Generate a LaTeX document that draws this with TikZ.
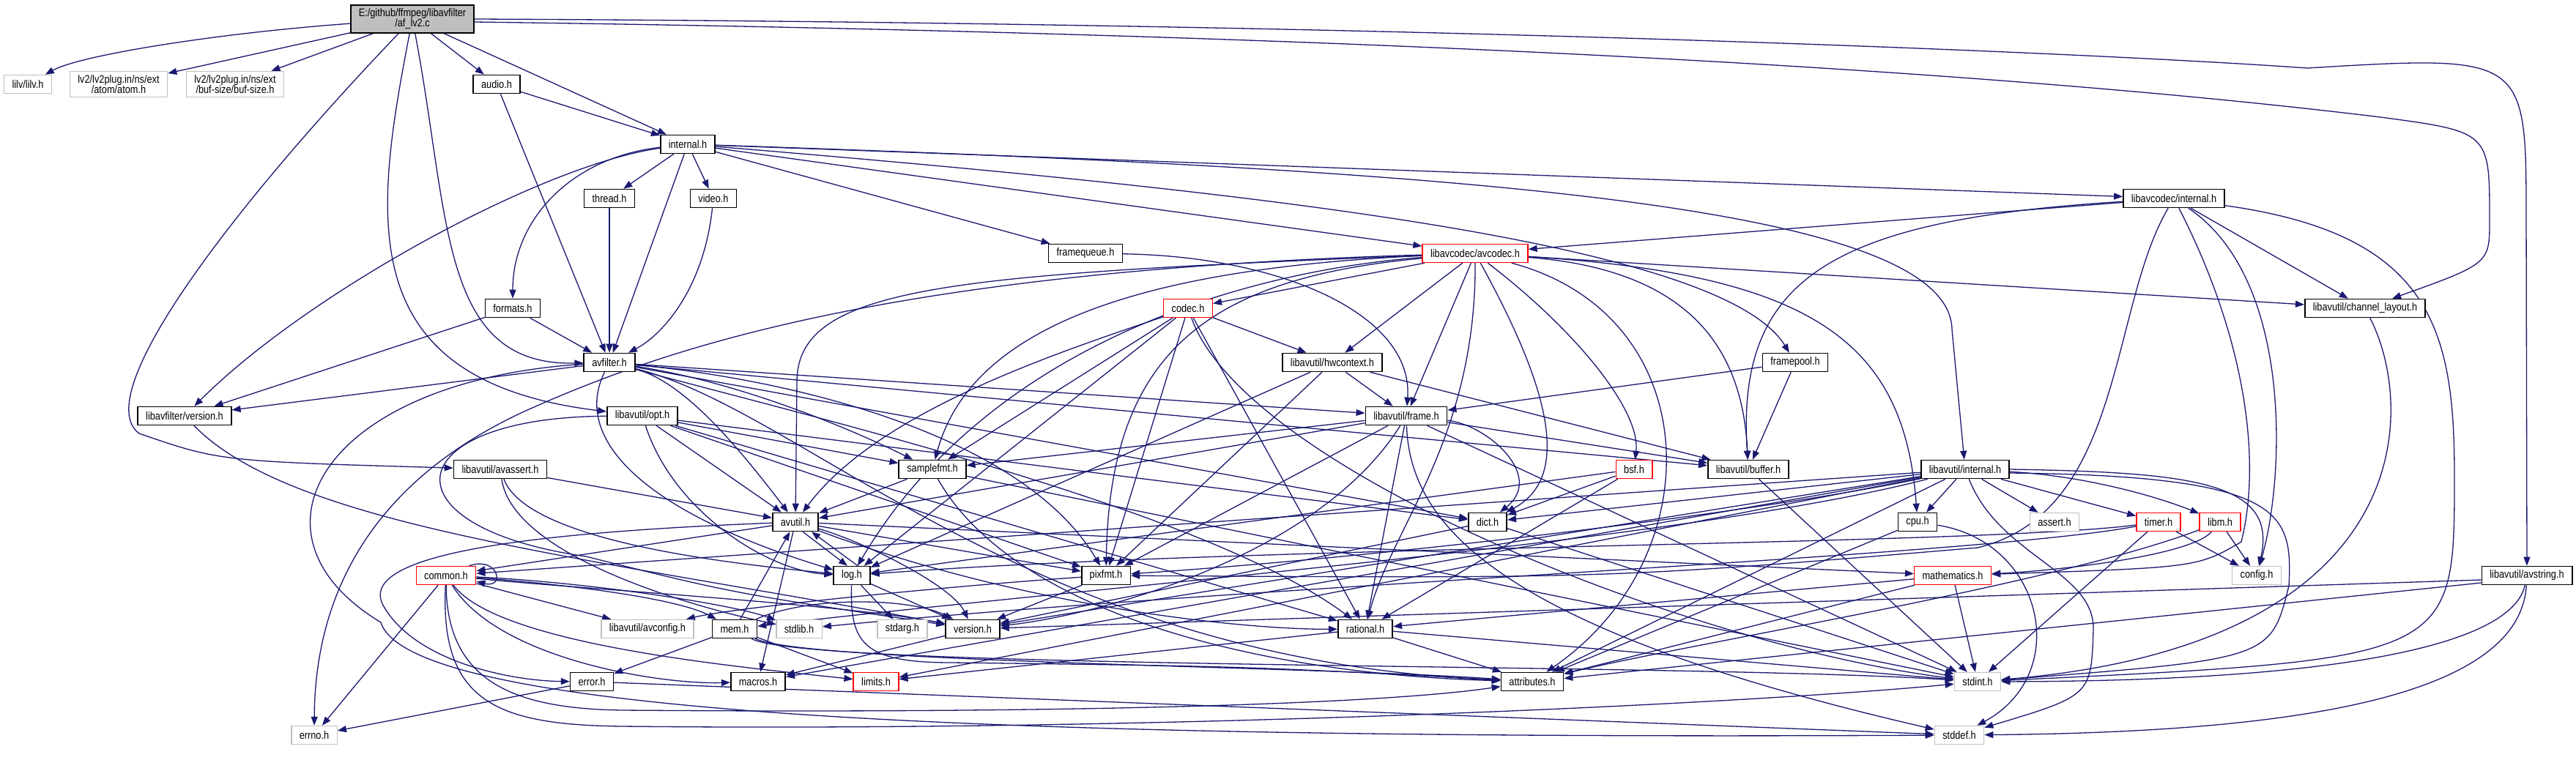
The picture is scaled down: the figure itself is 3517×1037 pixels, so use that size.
\documentclass[tikz,border=0pt]{standalone}
\usepackage{fontspec}
\setmainfont{Liberation Sans}[FakeStretch=0.85]
\usetikzlibrary{arrows.meta}
\definecolor{edgeblue}{RGB}{25,25,112}
\definecolor{sysgray}{RGB}{191,191,191}
\pgfdeclarelayer{bglayer}
\pgfdeclarelayer{edgelayer}
\pgfsetlayers{bglayer,edgelayer,main}

\begin{document}
\begin{tikzpicture}[x=1pt, y=-1pt, font=\fontsize{15}{14}\selectfont]
    \tikzset{
        hdr/.style={draw=black, line width=1.6pt, fill=white, inner xsep=11pt, inner ysep=5pt, minimum height=25pt, align=center},
        sysh/.style={hdr, draw=sysgray, line width=1.4pt},
        trunc/.style={hdr, draw=red, line width=1.4pt},
        rootbox/.style={hdr, fill=sysgray},
        inc/.style={draw=edgeblue, line width=1.3pt, -{Triangle[length=12pt,width=9pt]}},
    }
    \begin{pgfonlayer}{bglayer}
        \fill[white] (0,0) rectangle (3517,1037);
    \end{pgfonlayer}
    \useasboundingbox (0,0) rectangle (3517,1037);

    \node[rootbox] (root) at (563,26) {E:/github/ffmpeg/libavfilter\\/af\_lv2.c};
    \node[sysh] (lilv) at (38,115) {lilv/lilv.h};
    \node[sysh] (atom) at (162,115) {lv2/lv2plug.in/ns/ext\\/atom/atom.h};
    \node[sysh] (bufsize) at (321,115) {lv2/lv2plug.in/ns/ext\\/buf-size/buf-size.h};
    \node[hdr] (audio) at (678,115) {audio.h};
    \node[hdr] (internal) at (939,197) {internal.h};
    \node[hdr] (thread) at (832,271) {thread.h};
    \node[hdr] (video) at (974,271) {video.h};
    \node[hdr] (lavcint) at (2968,271) {libavcodec/internal.h};
    \node[hdr] (framequeue) at (1482,346) {framequeue.h};
    \node[trunc] (avcodec) at (2014,346) {libavcodec/avcodec.h};
    \node[hdr] (formats) at (700,421) {formats.h};
    \node[trunc] (codec) at (1622,421) {codec.h};
    \node[hdr] (chlayout) at (3229,421) {libavutil/channel\_layout.h};
    \node[hdr] (avfilter) at (832,495) {avfilter.h};
    \node[hdr] (hwctx) at (1819,495) {libavutil/hwcontext.h};
    \node[hdr] (framepool) at (2451,495) {framepool.h};
    \node[hdr] (lversion) at (252,568) {libavfilter/version.h};
    \node[hdr] (opt) at (877,568) {libavutil/opt.h};
    \node[hdr] (frame) at (1920,568) {libavutil/frame.h};
    \node[hdr] (avassert) at (683,641) {libavutil/avassert.h};
    \node[hdr] (samplefmt) at (1273,641) {samplefmt.h};
    \node[trunc] (bsf) at (2231,641) {bsf.h};
    \node[hdr] (buffer) at (2387,641) {libavutil/buffer.h};
    \node[hdr] (lavuint) at (2683,641) {libavutil/internal.h};
    \node[hdr] (avutil) at (1086,713) {avutil.h};
    \node[hdr] (dict) at (2031,713) {dict.h};
    \node[hdr] (cpu) at (2618,713) {cpu.h};
    \node[sysh] (assert) at (2805,713) {assert.h};
    \node[trunc] (timer) at (2947,713) {timer.h};
    \node[trunc] (libm) at (3031,713) {libm.h};
    \node[trunc] (common) at (609,786) {common.h};
    \node[hdr] (log) at (1163,786) {log.h};
    \node[hdr] (pixfmt) at (1510,786) {pixfmt.h};
    \node[trunc] (mathem) at (2666,786) {mathematics.h};
    \node[sysh] (config) at (3081,786) {config.h};
    \node[hdr] (avstring) at (3450,786) {libavutil/avstring.h};
    \node[sysh] (avconfig) at (884,859) {libavutil/avconfig.h};
    \node[hdr] (mem) at (1003,859) {mem.h};
    \node[sysh] (stdlib) at (1091,859) {stdlib.h};
    \node[sysh] (stdarg) at (1232,859) {stdarg.h};
    \node[hdr] (version) at (1328,859) {version.h};
    \node[hdr] (rational) at (1864,859) {rational.h};
    \node[hdr] (error) at (808,931) {error.h};
    \node[hdr] (macros) at (1035,931) {macros.h};
    \node[trunc] (limits) at (1196,931) {limits.h};
    \node[hdr] (attributes) at (2092,931) {attributes.h};
    \node[sysh] (stdint) at (2700,931) {stdint.h};
    \node[sysh] (errno) at (429,1004) {errno.h};
    \node[sysh] (stddef) at (2675,1004) {stddef.h};

    \begin{pgfonlayer}{edgelayer}
    \draw[inc] (root) .. controls (300,45) and (110,75) .. (lilv);
    \draw[inc] (root) -- (atom);
    \draw[inc] (root) -- (bufsize);
    \draw[inc] (root) -- (audio);
    \draw[inc] (root) -- (internal);
    \draw[inc] (root) .. controls (320,280) and (120,540) .. (190,592) .. controls (300,630) .. (avassert);
    \draw[inc] (root) .. controls (510,300) and (480,520) .. (opt);
    \draw[inc] (root) .. controls (615,300) and (600,500) .. (avfilter);
    \draw[inc] (root.east) .. controls (2000,32) and (2900,75) .. (3150,93) .. controls (3449,75) .. (3449,300) -- (avstring);
    \draw[inc] ([yshift=-4pt]root.east) .. controls (2000,48) and (2800,105) .. (3250,160) .. controls (3399,180) .. (3399,300) .. controls (3399,360) .. (chlayout);

    \draw[inc] (audio) -- (internal);
    \draw[inc] (audio) -- (avfilter);

    \draw[inc] (internal) -- (thread);
    \draw[inc] (internal) -- (video);
    \draw[inc] (internal) -- (avfilter);
    \draw[inc] (internal) -- (framequeue);
    \draw[inc] (internal) -- (avcodec);
    \draw[inc] (internal) -- (lavcint);
    \draw[inc] (internal) .. controls (780,215) and (700,300) .. (formats);
    \draw[inc] (internal) .. controls (740,225) and (420,400) .. (lversion);
    \draw[inc] (internal) .. controls (1700,260) and (2350,330) .. (framepool);
    \draw[inc] (internal) .. controls (2000,232) and (2662,280) .. (2665,450) -- (lavuint);

    \draw[inc] (thread) -- (avfilter);
    \draw[inc] (video) .. controls (960,400) and (900,460) .. (avfilter);
    \draw[inc] (formats) -- (avfilter);
    \draw[inc] (formats) -- (lversion);
    \draw[inc] (framequeue) .. controls (1750,350) and (1930,430) .. (frame);
    \draw[inc] (framepool) -- (frame);
    \draw[inc] (framepool) -- (buffer);
    \draw[inc] (lversion) .. controls (400,720) and (800,760) .. (version);

    \draw[inc] (lavcint) -- (avcodec);
    \draw[inc] (lavcint) -- (chlayout);
    \draw[inc] (lavcint) .. controls (2500,300) and (2370,380) .. (buffer);
    \draw[inc] (lavcint) .. controls (2880,420) and (2900,700) .. (2700,748) .. controls (2200,790) .. (pixfmt);
    \draw[inc] (lavcint) .. controls (3060,450) and (3090,620) .. (3060,740) .. controls (3000,775) .. (mathem);
    \draw[inc] (lavcint) .. controls (3130,380) and (3120,650) .. (config);
    \draw[inc] (lavcint) .. controls (3320,320) and (3351,450) .. (3351,650) .. controls (3351,900) .. (stdint);

    \draw[inc] (avcodec) -- (hwctx);
    \draw[inc] (avcodec) -- (frame);
    \draw[inc] (avcodec) -- (codec);
    \draw[inc] (avcodec) -- (chlayout);
    \draw[inc] (avcodec) .. controls (2150,450) and (2240,560) .. (bsf);
    \draw[inc] (avcodec) .. controls (2110,520) and (2150,650) .. (dict);
    \draw[inc] (avcodec) .. controls (2330,430) and (2340,760) .. (attributes);
    \draw[inc] (avcodec) .. controls (2330,370) and (2380,500) .. (buffer);
    \draw[inc] (avcodec) .. controls (2480,375) and (2600,470) .. (cpu);
    \draw[inc] (avcodec) .. controls (1200,370) and (900,480) .. (720,560) .. controls (500,660) and (430,820) .. (errno);
    \draw[inc] (avcodec) .. controls (1300,375) and (1090,390) .. (1088,520) -- (avutil);
    \draw[inc] (avcodec) .. controls (1600,365) and (1330,430) .. (samplefmt);
    \draw[inc] (avcodec) .. controls (1700,370) and (1350,470) .. (log);
    \draw[inc] (avcodec) .. controls (1650,380) and (1515,480) .. (pixfmt);
    \draw[inc] (avcodec) .. controls (2015,600) and (1900,720) .. (rational);

    \draw[inc] (codec) -- (hwctx);
    \draw[inc] (codec) -- (samplefmt);
    \draw[inc] (codec) -- (log);
    \draw[inc] (codec) -- (pixfmt);
    \draw[inc] (codec) -- (rational);
    \draw[inc] (codec) .. controls (1450,480) and (1200,560) .. (avutil);
    \draw[inc] (codec) .. controls (1700,640) and (2300,880) .. (stdint);

    \draw[inc] (chlayout) .. controls (3300,560) and (3300,880) .. (stdint);

    \draw[inc] (hwctx) -- (frame);
    \draw[inc] (hwctx) -- (buffer);
    \draw[inc] (hwctx) -- (log);
    \draw[inc] (hwctx) -- (pixfmt);

    \draw[inc] (avfilter) -- (lversion);
    \draw[inc] (avfilter) -- (frame);
    \draw[inc] (avfilter) -- (dict);
    \draw[inc] (avfilter) -- (buffer);
    \draw[inc] (avfilter) .. controls (930,520) and (1000,600) .. (avutil);
    \draw[inc] (avfilter) .. controls (1000,520) and (1150,580) .. (samplefmt);
    \draw[inc] (avfilter) .. controls (1100,520) and (1400,600) .. (pixfmt);
    \draw[inc] (avfilter) .. controls (780,600) and (880,700) .. (log);
    \draw[inc] (avfilter) .. controls (1150,580) and (1650,700) .. (rational);
    \draw[inc] (avfilter) .. controls (1100,560) and (1400,900) .. (attributes);
    \draw[inc] (avfilter) .. controls (440,520) and (320,730) .. (520,850) .. controls (560,980) and (1400,1010) .. (stddef);

    \draw[inc] (opt) -- (avutil);
    \draw[inc] (opt) -- (samplefmt);
    \draw[inc] (opt) -- (dict);
    \draw[inc] (opt) -- (pixfmt);
    \draw[inc] (opt) -- (rational);
    \draw[inc] (opt) .. controls (920,700) and (1050,780) .. (log);
    \draw[inc] (opt) .. controls (540,570) and (520,720) .. (800,760) .. controls (1000,810) .. (version);

    \draw[inc] (frame) -- (buffer);
    \draw[inc] (frame) -- (samplefmt);
    \draw[inc] (frame) -- (avutil);
    \draw[inc] (frame) -- (pixfmt);
    \draw[inc] (frame) -- (rational);
    \draw[inc] (frame) -- (stdint);
    \draw[inc] (frame) .. controls (1800,760) and (1500,840) .. (version);
    \draw[inc] (frame) .. controls (2030,580) and (2110,650) .. (dict);
    \draw[inc] (frame) .. controls (1925,720) and (2050,860) .. (stddef);

    \draw[inc] (avassert) -- (avutil);
    \draw[inc] (avassert) .. controls (700,760) and (950,830) .. (stdlib);
    \draw[inc] (avassert) .. controls (720,740) and (1000,770) .. (log);

    \draw[inc] (samplefmt) -- (avutil);
    \draw[inc] (samplefmt) -- (stdint);
    \draw[inc] (samplefmt) .. controls (1380,830) and (1700,920) .. (attributes);

    \draw[inc] (bsf) -- (dict);
    \draw[inc] (bsf) -- (log);
    \draw[inc] (bsf) -- (rational);

    \draw[inc] (buffer) -- (stdint);

    \draw[inc] (lavuint) -- (cpu);
    \draw[inc] (lavuint) -- (assert);
    \draw[inc] (lavuint) -- (timer);
    \draw[inc] (lavuint) -- (dict);
    \draw[inc] (lavuint) -- (attributes);
    \draw[inc] (lavuint) -- (version);
    \draw[inc] (lavuint) -- (macros);
    \draw[inc] (lavuint) -- (limits);
    \draw[inc] (lavuint) -- (common);
    \draw[inc] (lavuint) .. controls (2850,650) and (2950,680) .. (libm);
    \draw[inc] (lavuint) .. controls (2400,700) and (1900,760) .. (pixfmt);
    \draw[inc] (lavuint) .. controls (2300,740) and (1500,800) .. (mem);
    \draw[inc] (lavuint.east) .. controls (3000,645) and (3110,660) .. (config);
    \draw[inc] ([yshift=-5pt]lavuint.east) .. controls (3120,650) and (3130,700) .. (3125,800) .. controls (3100,900) .. (stdint);
    \draw[inc] (lavuint) .. controls (2730,760) and (2860,780) .. (2858,860) .. controls (2855,950) .. (stddef);

    \draw[inc] (avutil) -- (common);
    \draw[inc] (avutil) -- (macros);
    \draw[inc] (avutil) -- (mathem);
    \draw[inc] (avutil) -- (pixfmt);
    \draw[inc] ([xshift=10pt]avutil.south) -- ([xshift=-6pt]log.north);
    \draw[inc] (avutil) .. controls (1180,740) and (1300,800) .. (version);
    \draw[inc] (avutil) .. controls (1400,830) and (1700,860) .. (rational);
    \draw[inc] (avutil) .. controls (700,728) and (480,760) .. (525,830) .. controls (570,905) and (700,930) .. (error);

    \draw[inc] (dict) -- (stdint);
    \draw[inc] (dict) -- (version);

    \draw[inc] (cpu) -- (attributes);
    \draw[inc] (cpu) .. controls (2790,740) and (2830,920) .. (stddef);

    \draw[inc] (timer) -- (config);
    \draw[inc] (timer) -- (stdint);
    \draw[inc] (timer) .. controls (2700,760) and (1700,800) .. (stdlib);
    \draw[inc] (timer) .. controls (2700,745) and (1700,745) .. (log);

    \draw[inc] (libm) -- (config);
    \draw[inc] (libm) .. controls (2990,760) and (2800,780) .. (mathem);
    \draw[inc] (libm) .. controls (2800,800) and (2300,880) .. (attributes);

    \draw[inc] ([xshift=-10pt]common.north east) .. controls +(40,-14) and +(40,10) .. ([yshift=5pt]common.south east);
    \draw[inc] (common) -- (errno);
    \draw[inc] (common) -- (avconfig);
    \draw[inc] (common) .. controls (800,800) and (930,820) .. (mem);
    \draw[inc] (common) .. controls (800,795) and (1000,825) .. (stdlib);
    \draw[inc] (common) .. controls (800,805) and (1150,825) .. (version);
    \draw[inc] (common) .. controls (680,900) and (900,935) .. (macros);
    \draw[inc] (common) .. controls (680,880) and (1000,910) .. (limits);
    \draw[inc] (common) .. controls (610,930) and (700,968) .. (850,970) .. controls (1500,975) and (1900,960) .. (attributes);
    \draw[inc] (common) .. controls (600,960) and (680,990) .. (850,992) .. controls (1600,1000) and (2400,960) .. (stdint);

    \draw[inc] ([xshift=8pt]log.north) -- ([xshift=22pt]avutil.south);
    \draw[inc] (log) -- (stdarg);
    \draw[inc] (log) -- (version);
    \draw[inc] (log) .. controls (1160,880) and (1180,905) .. (1300,905) .. controls (1700,910) .. (attributes);

    \draw[inc] (pixfmt) -- (version);
    \draw[inc] (pixfmt) .. controls (1300,800) and (1000,830) .. (avconfig);

    \draw[inc] (mathem) -- (stdint);
    \draw[inc] (mathem) -- (attributes);
    \draw[inc] (mathem) -- (rational);

    \draw[inc] ([yshift=-6pt]avstring.west) -- (version);
    \draw[inc] ([yshift=-10pt]avstring.west) -- (attributes);
    \draw[inc] (avstring) .. controls (3430,880) and (3200,930) .. (stdint);
    \draw[inc] (avstring) .. controls (3440,960) and (3100,1000) .. (stddef);

    \draw[inc] (error) -- (errno);
    \draw[inc] (error) -- (stddef);

    \draw[inc] (mem) -- (avutil);
    \draw[inc] (mem) -- (error);
    \draw[inc] (mem) -- (limits);
    \draw[inc] (mem) .. controls (1100,815) and (1240,815) .. (version);
    \draw[inc] (mem) .. controls (1100,905) and (1800,910) .. (attributes);
    \draw[inc] (mem) .. controls (1100,915) and (2300,905) .. (stdint);

    \draw[inc] (version) -- (macros);

    \draw[inc] (rational) -- (attributes);
    \draw[inc] (rational) -- (limits);
    \draw[inc] (rational) -- (stdint);
    \end{pgfonlayer}
\end{tikzpicture}
\end{document}
